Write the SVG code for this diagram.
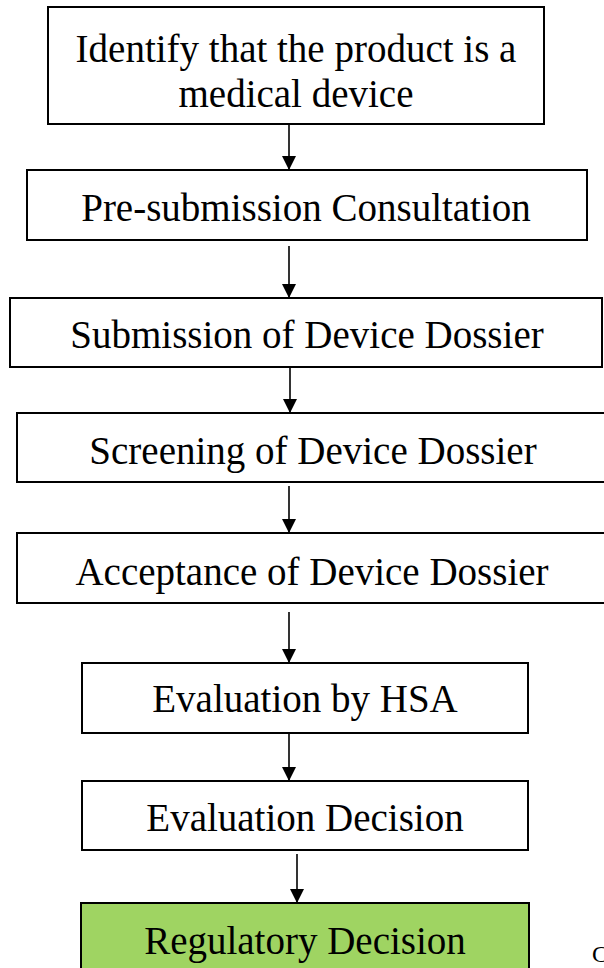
<svg xmlns="http://www.w3.org/2000/svg" width="604" height="968" viewBox="0 0 604 968">
  <style>
    .box { fill: #ffffff; stroke: #000000; stroke-width: 2; }
    .final { fill: #9fd462; stroke: #000000; stroke-width: 2; }
    .label { font-family: "Liberation Serif", "Times New Roman", "DejaVu Serif", serif; font-size: 39px; fill: #000000; text-anchor: middle; }
    .edge { stroke: #000000; stroke-width: 1.6; fill: none; marker-end: url(#head); }
    .note { font-family: "Liberation Serif", "Times New Roman", "DejaVu Serif", serif; font-size: 24px; fill: #000000; }
  </style>
  <defs>
    <marker id="head" viewBox="0 0 14 14" refX="14" refY="7" markerWidth="14" markerHeight="14" markerUnits="userSpaceOnUse" orient="auto">
      <path d="M0,0 L14,7 L0,14 Z" fill="#000000"/>
    </marker>
  </defs>
  <rect width="604" height="968" fill="#ffffff"/>

  <!-- flow arrows between the steps -->
  <g id="connectors">
    <line class="edge" x1="289" y1="124" x2="289" y2="170"/>
    <line class="edge" x1="289" y1="246" x2="289" y2="298"/>
    <line class="edge" x1="290" y1="363" x2="290" y2="413"/>
    <line class="edge" x1="289" y1="486" x2="289" y2="533"/>
    <line class="edge" x1="289" y1="612" x2="289" y2="663"/>
    <line class="edge" x1="289" y1="733" x2="289" y2="781"/>
    <line class="edge" x1="297" y1="854" x2="297" y2="903"/>
  </g>

  <g id="identify">
    <rect class="box" x="48" y="7" width="496" height="117"/>
    <text class="label" x="296" y="62">Identify that the product is a</text>
    <text class="label" x="296" y="107">medical device</text>
  </g>

  <g id="presubmission">
    <rect class="box" x="27" y="170" width="560" height="70"/>
    <text class="label" x="306" y="221">Pre-submission Consultation</text>
  </g>

  <g id="submission">
    <rect class="box" x="10" y="298" width="592" height="69"/>
    <text class="label" x="307" y="348">Submission of Device Dossier</text>
  </g>

  <g id="screening">
    <rect class="box" x="17" y="413" width="600" height="69"/>
    <text class="label" x="313" y="464">Screening of Device Dossier</text>
  </g>

  <g id="acceptance">
    <rect class="box" x="17" y="533" width="600" height="70"/>
    <text class="label" x="312" y="585">Acceptance of Device Dossier</text>
  </g>

  <g id="evaluation-hsa">
    <rect class="box" x="82" y="663" width="446" height="70"/>
    <text class="label" x="305" y="712">Evaluation by HSA</text>
  </g>

  <g id="evaluation-decision">
    <rect class="box" x="82" y="781" width="446" height="69"/>
    <text class="label" x="305" y="831">Evaluation Decision</text>
  </g>

  <g id="regulatory-decision">
    <rect class="final" x="81" y="903" width="448" height="80"/>
    <text class="label" x="305" y="954">Regulatory Decision</text>
  </g>

  <text class="note" x="592" y="962">C</text>
</svg>
